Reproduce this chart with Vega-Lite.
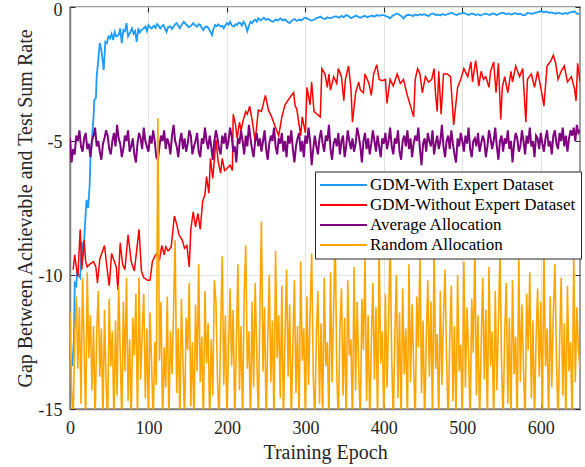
{
"$schema":"https://vega.github.io/schema/vega-lite/v6.json",
"width":510,"height":402,
"autosize":{"type":"none"},
"padding":{"left":70,"top":7,"right":5,"bottom":58},
"background":"white",
"config":{
 "view":{"stroke":"#808080","strokeWidth":1.5},
 "font":"Liberation Serif",
 "axis":{"labelFont":"Liberation Serif","labelFontSize":18,"labelColor":"#262626","titleFont":"Liberation Serif","titleFontSize":20,"titleFontWeight":"normal","titleColor":"#262626","domainColor":"#808080","domainWidth":1.5,"tickColor":"#262626","tickSize":-5,"tickWidth":1,"gridColor":"#e3e3e3","gridWidth":1}
},
"datasets":{
"blue":[{"e":3,"v":-13.4},{"e":5,"v":-12.4},{"e":6,"v":-10.3},{"e":8,"v":-10.4},{"e":9,"v":-9.9},{"e":11,"v":-10.0},{"e":13,"v":-10.1},{"e":15,"v":-8.75},{"e":17,"v":-9.3},{"e":19,"v":-8.2},{"e":21,"v":-7.2},{"e":23,"v":-7.5},{"e":25,"v":-6.7},{"e":26,"v":-5.7},{"e":28,"v":-4.96},{"e":30,"v":-4.1},{"e":31,"v":-3.47},{"e":33,"v":-3.4},{"e":34,"v":-2.6},{"e":36,"v":-1.98},{"e":38,"v":-1.35},{"e":40,"v":-1.6},{"e":43,"v":-2.35},{"e":45,"v":-1.3},{"e":47,"v":-1.35},{"e":49,"v":-1.1},{"e":51,"v":-1.17},{"e":53,"v":-1.0},{"e":55,"v":-1.23},{"e":57,"v":-0.93},{"e":59,"v":-1.1},{"e":62,"v":-1.05},{"e":64,"v":-0.8},{"e":66,"v":-1.35},{"e":68,"v":-0.86},{"e":70,"v":-0.9},{"e":72,"v":-0.6},{"e":74,"v":-1.1},{"e":77,"v":-0.93},{"e":79,"v":-0.8},{"e":81,"v":-1.0},{"e":83,"v":-0.9},{"e":85,"v":-1.3},{"e":87,"v":-0.8},{"e":89,"v":-0.95},{"e":91,"v":-0.86},{"e":94,"v":-0.8},{"e":96,"v":-0.73},{"e":98,"v":-0.9},{"e":100,"v":-0.67},{"e":102,"v":-0.75},{"e":104,"v":-0.8},{"e":107,"v":-0.7},{"e":109,"v":-0.78},{"e":111,"v":-0.63},{"e":113,"v":-0.7},{"e":115,"v":-0.8},{"e":117,"v":-0.72},{"e":119,"v":-0.67},{"e":121,"v":-0.8},{"e":123,"v":-0.93},{"e":125,"v":-0.75},{"e":128,"v":-0.73},{"e":130,"v":-0.82},{"e":132,"v":-0.73},{"e":134,"v":-0.65},{"e":136,"v":-0.6},{"e":138,"v":-0.7},{"e":140,"v":-0.8},{"e":142,"v":-0.68},{"e":145,"v":-0.55},{"e":147,"v":-0.62},{"e":149,"v":-0.67},{"e":151,"v":-0.75},{"e":153,"v":-0.73},{"e":155,"v":-0.68},{"e":157,"v":-0.6},{"e":160,"v":-0.7},{"e":162,"v":-0.73},{"e":164,"v":-0.64},{"e":166,"v":-0.67},{"e":168,"v":-0.78},{"e":170,"v":-0.86},{"e":172,"v":-0.75},{"e":175,"v":-0.73},{"e":177,"v":-0.82},{"e":179,"v":-0.93},{"e":181,"v":-1.05},{"e":183,"v":-0.8},{"e":185,"v":-0.67},{"e":187,"v":-0.72},{"e":189,"v":-0.65},{"e":192,"v":-0.73},{"e":194,"v":-0.7},{"e":196,"v":-0.8},{"e":198,"v":-0.68},{"e":200,"v":-0.6},{"e":202,"v":-0.66},{"e":204,"v":-0.55},{"e":206,"v":-0.68},{"e":209,"v":-0.73},{"e":211,"v":-0.64},{"e":213,"v":-0.67},{"e":215,"v":-0.58},{"e":217,"v":-0.6},{"e":219,"v":-0.7},{"e":221,"v":-0.55},{"e":223,"v":-0.62},{"e":226,"v":-0.9},{"e":228,"v":-0.7},{"e":230,"v":-0.55},{"e":232,"v":-0.6},{"e":234,"v":-0.52},{"e":236,"v":-0.47},{"e":238,"v":-0.55},{"e":240,"v":-0.42},{"e":243,"v":-0.5},{"e":245,"v":-0.45},{"e":247,"v":-0.4},{"e":250,"v":-0.48},{"e":253,"v":-0.44},{"e":256,"v":-0.52},{"e":259,"v":-0.55},{"e":262,"v":-0.47},{"e":265,"v":-0.5},{"e":268,"v":-0.43},{"e":271,"v":-0.5},{"e":274,"v":-0.46},{"e":277,"v":-0.55},{"e":280,"v":-0.6},{"e":283,"v":-0.5},{"e":286,"v":-0.45},{"e":289,"v":-0.52},{"e":292,"v":-0.47},{"e":295,"v":-0.5},{"e":298,"v":-0.42},{"e":301,"v":-0.4},{"e":304,"v":-0.46},{"e":307,"v":-0.5},{"e":310,"v":-0.49},{"e":313,"v":-0.43},{"e":316,"v":-0.4},{"e":319,"v":-0.36},{"e":322,"v":-0.42},{"e":325,"v":-0.45},{"e":328,"v":-0.38},{"e":331,"v":-0.42},{"e":334,"v":-0.4},{"e":337,"v":-0.35},{"e":340,"v":-0.36},{"e":343,"v":-0.4},{"e":346,"v":-0.33},{"e":349,"v":-0.38},{"e":352,"v":-0.3},{"e":355,"v":-0.34},{"e":358,"v":-0.42},{"e":361,"v":-0.38},{"e":364,"v":-0.32},{"e":367,"v":-0.36},{"e":370,"v":-0.4},{"e":373,"v":-0.36},{"e":376,"v":-0.33},{"e":379,"v":-0.38},{"e":382,"v":-0.35},{"e":385,"v":-0.32},{"e":388,"v":-0.36},{"e":391,"v":-0.3},{"e":394,"v":-0.33},{"e":397,"v":-0.3},{"e":400,"v":-0.3},{"e":403,"v":-0.35},{"e":406,"v":-0.38},{"e":408,"v":-0.42},{"e":411,"v":-0.33},{"e":414,"v":-0.28},{"e":417,"v":-0.24},{"e":420,"v":-0.3},{"e":423,"v":-0.35},{"e":425,"v":-0.43},{"e":428,"v":-0.33},{"e":431,"v":-0.29},{"e":434,"v":-0.3},{"e":437,"v":-0.34},{"e":440,"v":-0.28},{"e":443,"v":-0.32},{"e":446,"v":-0.27},{"e":449,"v":-0.3},{"e":451,"v":-0.27},{"e":454,"v":-0.3},{"e":457,"v":-0.34},{"e":460,"v":-0.26},{"e":463,"v":-0.24},{"e":466,"v":-0.3},{"e":469,"v":-0.28},{"e":472,"v":-0.32},{"e":475,"v":-0.26},{"e":478,"v":-0.3},{"e":481,"v":-0.27},{"e":484,"v":-0.24},{"e":487,"v":-0.22},{"e":490,"v":-0.27},{"e":493,"v":-0.3},{"e":496,"v":-0.25},{"e":499,"v":-0.24},{"e":502,"v":-0.22},{"e":505,"v":-0.26},{"e":508,"v":-0.3},{"e":511,"v":-0.25},{"e":514,"v":-0.26},{"e":517,"v":-0.3},{"e":520,"v":-0.27},{"e":523,"v":-0.32},{"e":526,"v":-0.28},{"e":529,"v":-0.25},{"e":532,"v":-0.27},{"e":535,"v":-0.3},{"e":538,"v":-0.24},{"e":541,"v":-0.26},{"e":544,"v":-0.3},{"e":547,"v":-0.25},{"e":550,"v":-0.22},{"e":553,"v":-0.22},{"e":556,"v":-0.27},{"e":559,"v":-0.24},{"e":562,"v":-0.28},{"e":565,"v":-0.25},{"e":568,"v":-0.23},{"e":571,"v":-0.27},{"e":574,"v":-0.25},{"e":577,"v":-0.3},{"e":580,"v":-0.3},{"e":583,"v":-0.22},{"e":586,"v":-0.24},{"e":589,"v":-0.26},{"e":592,"v":-0.22},{"e":595,"v":-0.2},{"e":598,"v":-0.17},{"e":601,"v":-0.15},{"e":604,"v":-0.2},{"e":607,"v":-0.17},{"e":610,"v":-0.22},{"e":613,"v":-0.2},{"e":616,"v":-0.22},{"e":619,"v":-0.25},{"e":622,"v":-0.21},{"e":625,"v":-0.24},{"e":628,"v":-0.26},{"e":631,"v":-0.22},{"e":634,"v":-0.25},{"e":637,"v":-0.2},{"e":640,"v":-0.18},{"e":643,"v":-0.17},{"e":646,"v":-0.24},{"e":649,"v":-0.27}],
"red":[{"e":4,"v":-9.8},{"e":6,"v":-9.25},{"e":8,"v":-9.7},{"e":10,"v":-10.06},{"e":13,"v":-8.3},{"e":15,"v":-9.8},{"e":18,"v":-8.7},{"e":20,"v":-9.5},{"e":22,"v":-9.7},{"e":25,"v":-9.6},{"e":30,"v":-9.5},{"e":33,"v":-9.7},{"e":35,"v":-10.3},{"e":38,"v":-9.4},{"e":44,"v":-8.9},{"e":47,"v":-9.7},{"e":50,"v":-10.4},{"e":53,"v":-9.2},{"e":56,"v":-9.45},{"e":59,"v":-9.7},{"e":61,"v":-10.56},{"e":64,"v":-8.8},{"e":67,"v":-9.6},{"e":70,"v":-9.8},{"e":74,"v":-8.5},{"e":78,"v":-9.5},{"e":82,"v":-9.85},{"e":88,"v":-8.3},{"e":91,"v":-9.85},{"e":94,"v":-10.1},{"e":99,"v":-10.2},{"e":102,"v":-10.2},{"e":105,"v":-9.5},{"e":108,"v":-9.3},{"e":111,"v":-9.2},{"e":114,"v":-9.45},{"e":117,"v":-8.9},{"e":120,"v":-9.25},{"e":122,"v":-8.95},{"e":125,"v":-9.1},{"e":129,"v":-8.95},{"e":133,"v":-7.8},{"e":136,"v":-8.1},{"e":139,"v":-8.5},{"e":143,"v":-8.7},{"e":146,"v":-9.0},{"e":149,"v":-8.9},{"e":152,"v":-9.7},{"e":154,"v":-8.3},{"e":157,"v":-7.64},{"e":160,"v":-8.2},{"e":163,"v":-7.7},{"e":166,"v":-8.3},{"e":169,"v":-7.26},{"e":172,"v":-7.0},{"e":174,"v":-6.33},{"e":177,"v":-6.95},{"e":179,"v":-5.65},{"e":182,"v":-6.4},{"e":185,"v":-5.34},{"e":186,"v":-4.96},{"e":189,"v":-5.8},{"e":192,"v":-6.2},{"e":194,"v":-5.65},{"e":197,"v":-6.1},{"e":201,"v":-6.0},{"e":204,"v":-5.9},{"e":207,"v":-6.1},{"e":208,"v":-4.0},{"e":211,"v":-4.4},{"e":213,"v":-4.9},{"e":216,"v":-4.3},{"e":218,"v":-4.6},{"e":221,"v":-4.2},{"e":224,"v":-3.9},{"e":226,"v":-4.0},{"e":229,"v":-3.7},{"e":232,"v":-4.2},{"e":236,"v":-5.0},{"e":240,"v":-3.85},{"e":244,"v":-3.9},{"e":249,"v":-3.3},{"e":253,"v":-3.85},{"e":257,"v":-4.1},{"e":262,"v":-4.5},{"e":266,"v":-4.8},{"e":270,"v":-4.1},{"e":274,"v":-3.65},{"e":281,"v":-3.35},{"e":285,"v":-3.2},{"e":287,"v":-3.7},{"e":289,"v":-3.8},{"e":294,"v":-4.8},{"e":296,"v":-4.1},{"e":300,"v":-4.7},{"e":302,"v":-3.0},{"e":306,"v":-3.65},{"e":308,"v":-2.8},{"e":311,"v":-3.9},{"e":315,"v":-4.0},{"e":319,"v":-4.1},{"e":321,"v":-2.3},{"e":325,"v":-2.5},{"e":328,"v":-3.0},{"e":330,"v":-2.5},{"e":332,"v":-3.1},{"e":336,"v":-2.6},{"e":340,"v":-2.85},{"e":342,"v":-2.3},{"e":346,"v":-2.6},{"e":349,"v":-3.5},{"e":351,"v":-2.7},{"e":355,"v":-2.2},{"e":358,"v":-3.0},{"e":360,"v":-4.3},{"e":364,"v":-3.2},{"e":368,"v":-2.8},{"e":370,"v":-3.1},{"e":374,"v":-3.2},{"e":376,"v":-2.5},{"e":381,"v":-2.85},{"e":384,"v":-3.3},{"e":387,"v":-2.5},{"e":391,"v":-2.15},{"e":394,"v":-2.7},{"e":398,"v":-2.75},{"e":402,"v":-2.7},{"e":404,"v":-3.6},{"e":408,"v":-2.7},{"e":412,"v":-2.95},{"e":417,"v":-2.5},{"e":421,"v":-2.85},{"e":425,"v":-2.7},{"e":430,"v":-3.3},{"e":434,"v":-3.7},{"e":438,"v":-4.1},{"e":440,"v":-2.7},{"e":443,"v":-2.3},{"e":446,"v":-2.5},{"e":449,"v":-3.2},{"e":453,"v":-2.6},{"e":457,"v":-2.8},{"e":461,"v":-2.7},{"e":464,"v":-2.3},{"e":466,"v":-3.3},{"e":468,"v":-3.9},{"e":470,"v":-2.4},{"e":473,"v":-4.0},{"e":476,"v":-2.5},{"e":481,"v":-2.5},{"e":485,"v":-2.6},{"e":489,"v":-4.4},{"e":494,"v":-3.0},{"e":498,"v":-2.7},{"e":502,"v":-2.3},{"e":507,"v":-2.6},{"e":511,"v":-2.05},{"e":513,"v":-2.8},{"e":517,"v":-2.0},{"e":519,"v":-2.4},{"e":521,"v":-2.95},{"e":524,"v":-2.4},{"e":527,"v":-2.7},{"e":530,"v":-2.6},{"e":534,"v":-3.0},{"e":536,"v":-2.4},{"e":540,"v":-2.05},{"e":543,"v":-3.2},{"e":546,"v":-2.1},{"e":549,"v":-4.2},{"e":551,"v":-3.0},{"e":554,"v":-2.6},{"e":558,"v":-3.2},{"e":562,"v":-2.4},{"e":564,"v":-2.8},{"e":568,"v":-2.2},{"e":573,"v":-2.6},{"e":577,"v":-2.3},{"e":581,"v":-4.3},{"e":583,"v":-2.7},{"e":588,"v":-2.5},{"e":592,"v":-3.0},{"e":596,"v":-2.4},{"e":600,"v":-3.0},{"e":604,"v":-3.7},{"e":608,"v":-2.2},{"e":613,"v":-2.0},{"e":616,"v":-1.8},{"e":619,"v":-2.1},{"e":622,"v":-2.7},{"e":626,"v":-2.4},{"e":630,"v":-2.2},{"e":634,"v":-2.8},{"e":639,"v":-2.6},{"e":643,"v":-3.05},{"e":645,"v":-3.5},{"e":647,"v":-2.1},{"e":650,"v":-2.8}],
"purple":[{"e":0,"v":-4.9},{"e":2,"v":-5.8},{"e":4,"v":-5.3},{"e":6,"v":-5.5},{"e":8,"v":-4.8},{"e":10,"v":-5.0},{"e":12,"v":-4.6},{"e":14,"v":-5.2},{"e":16,"v":-5.4},{"e":18,"v":-4.9},{"e":20,"v":-4.7},{"e":22,"v":-5.3},{"e":24,"v":-5.1},{"e":26,"v":-5.6},{"e":28,"v":-5.0},{"e":30,"v":-4.8},{"e":32,"v":-4.5},{"e":34,"v":-5.2},{"e":36,"v":-5.0},{"e":38,"v":-5.4},{"e":40,"v":-5.7},{"e":42,"v":-5.1},{"e":44,"v":-4.9},{"e":46,"v":-4.6},{"e":48,"v":-4.8},{"e":50,"v":-5.3},{"e":52,"v":-5.5},{"e":54,"v":-5.0},{"e":56,"v":-4.7},{"e":58,"v":-5.2},{"e":60,"v":-4.4},{"e":62,"v":-4.9},{"e":64,"v":-5.1},{"e":66,"v":-5.6},{"e":68,"v":-5.3},{"e":70,"v":-4.8},{"e":72,"v":-5.0},{"e":74,"v":-4.6},{"e":76,"v":-5.4},{"e":78,"v":-5.2},{"e":80,"v":-4.9},{"e":82,"v":-5.5},{"e":84,"v":-5.8},{"e":86,"v":-5.1},{"e":88,"v":-4.7},{"e":90,"v":-4.9},{"e":92,"v":-5.3},{"e":94,"v":-4.5},{"e":96,"v":-5.0},{"e":98,"v":-5.2},{"e":100,"v":-5.4},{"e":102,"v":-4.8},{"e":104,"v":-5.1},{"e":106,"v":-4.6},{"e":108,"v":-5.0},{"e":110,"v":-5.6},{"e":112,"v":-5.7},{"e":114,"v":-5.2},{"e":116,"v":-4.8},{"e":118,"v":-5.0},{"e":120,"v":-4.6},{"e":122,"v":-5.3},{"e":124,"v":-4.9},{"e":126,"v":-5.1},{"e":128,"v":-5.5},{"e":130,"v":-4.8},{"e":132,"v":-4.4},{"e":134,"v":-5.0},{"e":136,"v":-5.2},{"e":138,"v":-5.6},{"e":140,"v":-5.0},{"e":142,"v":-4.7},{"e":144,"v":-5.3},{"e":146,"v":-4.9},{"e":148,"v":-5.4},{"e":150,"v":-5.1},{"e":152,"v":-4.6},{"e":154,"v":-4.8},{"e":156,"v":-5.5},{"e":158,"v":-5.2},{"e":160,"v":-5.0},{"e":162,"v":-4.7},{"e":164,"v":-5.4},{"e":166,"v":-5.6},{"e":168,"v":-4.9},{"e":170,"v":-5.1},{"e":172,"v":-4.5},{"e":174,"v":-5.0},{"e":176,"v":-5.3},{"e":178,"v":-4.8},{"e":180,"v":-5.2},{"e":182,"v":-5.7},{"e":184,"v":-5.0},{"e":186,"v":-4.6},{"e":188,"v":-4.9},{"e":190,"v":-5.3},{"e":192,"v":-5.5},{"e":194,"v":-4.8},{"e":196,"v":-5.1},{"e":198,"v":-4.7},{"e":200,"v":-5.3},{"e":202,"v":-5.0},{"e":204,"v":-4.5},{"e":206,"v":-4.8},{"e":208,"v":-5.4},{"e":210,"v":-5.2},{"e":212,"v":-5.8},{"e":214,"v":-4.9},{"e":216,"v":-5.1},{"e":218,"v":-4.6},{"e":220,"v":-5.0},{"e":222,"v":-5.5},{"e":224,"v":-4.8},{"e":226,"v":-5.2},{"e":228,"v":-4.4},{"e":230,"v":-4.9},{"e":232,"v":-5.3},{"e":234,"v":-5.6},{"e":236,"v":-5.0},{"e":238,"v":-4.7},{"e":240,"v":-5.2},{"e":242,"v":-4.9},{"e":244,"v":-5.4},{"e":246,"v":-5.0},{"e":248,"v":-4.6},{"e":250,"v":-5.3},{"e":252,"v":-5.7},{"e":254,"v":-5.1},{"e":256,"v":-4.8},{"e":258,"v":-5.0},{"e":260,"v":-4.5},{"e":262,"v":-5.2},{"e":264,"v":-5.5},{"e":266,"v":-4.9},{"e":268,"v":-5.1},{"e":270,"v":-4.7},{"e":272,"v":-5.4},{"e":274,"v":-5.0},{"e":276,"v":-5.6},{"e":278,"v":-4.8},{"e":280,"v":-5.1},{"e":282,"v":-4.6},{"e":284,"v":-5.3},{"e":286,"v":-5.8},{"e":288,"v":-5.2},{"e":290,"v":-4.9},{"e":292,"v":-4.7},{"e":294,"v":-5.4},{"e":296,"v":-5.0},{"e":298,"v":-5.6},{"e":300,"v":-4.8},{"e":302,"v":-5.1},{"e":304,"v":-4.5},{"e":306,"v":-5.0},{"e":308,"v":-5.9},{"e":310,"v":-5.3},{"e":312,"v":-4.8},{"e":314,"v":-5.2},{"e":316,"v":-5.5},{"e":318,"v":-4.9},{"e":320,"v":-4.6},{"e":322,"v":-5.1},{"e":324,"v":-5.4},{"e":326,"v":-4.8},{"e":328,"v":-5.0},{"e":330,"v":-4.4},{"e":332,"v":-5.3},{"e":334,"v":-5.7},{"e":336,"v":-5.1},{"e":338,"v":-4.9},{"e":340,"v":-5.2},{"e":342,"v":-4.7},{"e":344,"v":-5.5},{"e":346,"v":-5.0},{"e":348,"v":-4.8},{"e":350,"v":-5.6},{"e":352,"v":-5.2},{"e":354,"v":-4.6},{"e":356,"v":-5.0},{"e":358,"v":-5.3},{"e":360,"v":-4.9},{"e":362,"v":-5.4},{"e":364,"v":-5.1},{"e":366,"v":-4.5},{"e":368,"v":-4.8},{"e":370,"v":-5.2},{"e":372,"v":-5.8},{"e":374,"v":-5.0},{"e":376,"v":-4.7},{"e":378,"v":-5.3},{"e":380,"v":-4.9},{"e":382,"v":-5.5},{"e":384,"v":-5.1},{"e":386,"v":-4.6},{"e":388,"v":-5.0},{"e":390,"v":-5.4},{"e":392,"v":-4.8},{"e":394,"v":-5.2},{"e":396,"v":-5.6},{"e":398,"v":-4.9},{"e":400,"v":-5.1},{"e":402,"v":-4.7},{"e":404,"v":-5.3},{"e":406,"v":-5.0},{"e":408,"v":-4.5},{"e":410,"v":-5.2},{"e":412,"v":-5.5},{"e":414,"v":-4.9},{"e":416,"v":-5.1},{"e":418,"v":-4.6},{"e":420,"v":-5.4},{"e":422,"v":-5.7},{"e":424,"v":-5.0},{"e":426,"v":-4.8},{"e":428,"v":-5.2},{"e":430,"v":-4.6},{"e":432,"v":-5.3},{"e":434,"v":-4.9},{"e":436,"v":-5.6},{"e":438,"v":-5.1},{"e":440,"v":-4.8},{"e":442,"v":-5.0},{"e":444,"v":-4.5},{"e":446,"v":-5.3},{"e":448,"v":-5.9},{"e":450,"v":-5.1},{"e":452,"v":-4.9},{"e":454,"v":-5.4},{"e":456,"v":-4.7},{"e":458,"v":-5.0},{"e":460,"v":-5.2},{"e":462,"v":-4.6},{"e":464,"v":-5.5},{"e":466,"v":-5.1},{"e":468,"v":-4.8},{"e":470,"v":-5.3},{"e":472,"v":-5.0},{"e":474,"v":-4.4},{"e":476,"v":-5.2},{"e":478,"v":-5.6},{"e":480,"v":-5.0},{"e":482,"v":-4.8},{"e":484,"v":-5.3},{"e":486,"v":-4.6},{"e":488,"v":-5.1},{"e":490,"v":-5.5},{"e":492,"v":-5.8},{"e":494,"v":-4.9},{"e":496,"v":-5.2},{"e":498,"v":-4.7},{"e":500,"v":-5.0},{"e":502,"v":-5.4},{"e":504,"v":-4.8},{"e":506,"v":-5.1},{"e":508,"v":-4.5},{"e":510,"v":-5.3},{"e":512,"v":-5.6},{"e":514,"v":-5.0},{"e":516,"v":-4.9},{"e":518,"v":-5.2},{"e":520,"v":-4.7},{"e":522,"v":-5.4},{"e":524,"v":-5.1},{"e":526,"v":-4.8},{"e":528,"v":-5.0},{"e":530,"v":-5.6},{"e":532,"v":-5.2},{"e":534,"v":-4.6},{"e":536,"v":-4.9},{"e":538,"v":-5.3},{"e":540,"v":-5.0},{"e":542,"v":-4.5},{"e":544,"v":-5.2},{"e":546,"v":-5.7},{"e":548,"v":-5.0},{"e":550,"v":-4.8},{"e":552,"v":-5.4},{"e":554,"v":-4.9},{"e":556,"v":-5.1},{"e":558,"v":-4.6},{"e":560,"v":-5.3},{"e":562,"v":-5.0},{"e":564,"v":-5.8},{"e":566,"v":-5.1},{"e":568,"v":-4.7},{"e":570,"v":-4.9},{"e":572,"v":-5.4},{"e":574,"v":-5.2},{"e":576,"v":-4.6},{"e":578,"v":-5.0},{"e":580,"v":-5.5},{"e":582,"v":-4.8},{"e":584,"v":-5.1},{"e":586,"v":-4.5},{"e":588,"v":-5.2},{"e":590,"v":-5.0},{"e":592,"v":-5.6},{"e":594,"v":-4.8},{"e":596,"v":-4.9},{"e":598,"v":-5.3},{"e":600,"v":-4.7},{"e":602,"v":-5.1},{"e":604,"v":-5.4},{"e":606,"v":-4.9},{"e":608,"v":-4.6},{"e":610,"v":-5.2},{"e":612,"v":-5.0},{"e":614,"v":-5.5},{"e":616,"v":-4.8},{"e":618,"v":-4.6},{"e":620,"v":-5.1},{"e":622,"v":-5.3},{"e":624,"v":-4.7},{"e":626,"v":-5.0},{"e":628,"v":-4.5},{"e":630,"v":-5.2},{"e":632,"v":-4.8},{"e":634,"v":-5.4},{"e":636,"v":-4.9},{"e":638,"v":-4.6},{"e":640,"v":-4.8},{"e":642,"v":-4.5},{"e":644,"v":-5.0},{"e":646,"v":-4.4},{"e":648,"v":-4.7},{"e":650,"v":-4.6}],
"orange":[{"e":0,"v":-11.4},{"e":2,"v":-14.2},{"e":4,"v":-15.5},{"e":6,"v":-12.3},{"e":8,"v":-10.8},{"e":10,"v":-13.5},{"e":12,"v":-11.2},{"e":14,"v":-14.8},{"e":16,"v":-10.1},{"e":18,"v":-12.6},{"e":20,"v":-15.5},{"e":22,"v":-9.9},{"e":24,"v":-13.1},{"e":26,"v":-11.5},{"e":28,"v":-14.3},{"e":30,"v":-11.9},{"e":32,"v":-15.5},{"e":34,"v":-12.2},{"e":36,"v":-10.6},{"e":38,"v":-13.8},{"e":40,"v":-12.0},{"e":42,"v":-15.5},{"e":44,"v":-11.3},{"e":46,"v":-14.0},{"e":48,"v":-15.5},{"e":50,"v":-10.9},{"e":52,"v":-13.4},{"e":54,"v":-12.1},{"e":56,"v":-15.5},{"e":58,"v":-11.7},{"e":60,"v":-14.5},{"e":62,"v":-10.4},{"e":64,"v":-12.9},{"e":66,"v":-15.5},{"e":68,"v":-11.0},{"e":70,"v":-13.6},{"e":72,"v":-10.1},{"e":74,"v":-14.7},{"e":76,"v":-12.4},{"e":78,"v":-15.5},{"e":80,"v":-11.6},{"e":82,"v":-13.0},{"e":84,"v":-10.7},{"e":86,"v":-15.5},{"e":88,"v":-10.1},{"e":90,"v":-13.9},{"e":92,"v":-12.2},{"e":94,"v":-10.7},{"e":96,"v":-14.6},{"e":98,"v":-12.0},{"e":100,"v":-15.5},{"e":102,"v":-11.4},{"e":104,"v":-13.3},{"e":106,"v":-15.5},{"e":108,"v":-12.5},{"e":110,"v":-14.1},{"e":112,"v":-4.15},{"e":114,"v":-13.2},{"e":116,"v":-11.0},{"e":118,"v":-15.5},{"e":120,"v":-12.7},{"e":122,"v":-14.2},{"e":124,"v":-10.8},{"e":126,"v":-15.5},{"e":128,"v":-12.1},{"e":130,"v":-13.7},{"e":132,"v":-11.3},{"e":134,"v":-8.7},{"e":136,"v":-14.4},{"e":138,"v":-12.0},{"e":140,"v":-15.5},{"e":142,"v":-10.9},{"e":144,"v":-13.2},{"e":146,"v":-15.5},{"e":148,"v":-11.6},{"e":150,"v":-12.8},{"e":152,"v":-10.3},{"e":154,"v":-14.9},{"e":156,"v":-12.5},{"e":158,"v":-15.5},{"e":160,"v":-11.1},{"e":162,"v":-13.6},{"e":164,"v":-9.6},{"e":166,"v":-14.0},{"e":168,"v":-12.3},{"e":170,"v":-15.5},{"e":172,"v":-10.6},{"e":174,"v":-13.3},{"e":176,"v":-11.8},{"e":178,"v":-15.5},{"e":180,"v":-12.4},{"e":182,"v":-14.5},{"e":184,"v":-10.2},{"e":186,"v":-11.0},{"e":188,"v":-13.9},{"e":190,"v":-15.5},{"e":192,"v":-12.0},{"e":194,"v":-9.3},{"e":196,"v":-14.1},{"e":198,"v":-11.5},{"e":200,"v":-15.5},{"e":202,"v":-12.8},{"e":204,"v":-10.5},{"e":206,"v":-13.4},{"e":208,"v":-11.3},{"e":210,"v":-15.5},{"e":212,"v":-12.6},{"e":214,"v":-9.6},{"e":216,"v":-14.3},{"e":218,"v":-11.9},{"e":220,"v":-15.5},{"e":222,"v":-10.7},{"e":224,"v":-8.9},{"e":226,"v":-13.5},{"e":228,"v":-12.1},{"e":230,"v":-15.5},{"e":232,"v":-11.0},{"e":234,"v":-14.2},{"e":236,"v":-10.3},{"e":238,"v":-12.9},{"e":240,"v":-15.5},{"e":242,"v":-11.4},{"e":244,"v":-8.0},{"e":246,"v":-13.6},{"e":248,"v":-11.2},{"e":250,"v":-15.5},{"e":252,"v":-12.4},{"e":254,"v":-10.0},{"e":256,"v":-14.0},{"e":258,"v":-11.7},{"e":260,"v":-15.5},{"e":262,"v":-9.1},{"e":264,"v":-13.1},{"e":266,"v":-11.5},{"e":268,"v":-14.6},{"e":270,"v":-10.4},{"e":272,"v":-15.5},{"e":274,"v":-12.3},{"e":276,"v":-9.8},{"e":278,"v":-13.8},{"e":280,"v":-11.1},{"e":282,"v":-15.5},{"e":284,"v":-12.7},{"e":286,"v":-10.2},{"e":288,"v":-14.4},{"e":290,"v":-11.9},{"e":292,"v":-15.5},{"e":294,"v":-9.5},{"e":296,"v":-13.2},{"e":298,"v":-12.0},{"e":300,"v":-15.5},{"e":302,"v":-10.8},{"e":304,"v":-14.1},{"e":306,"v":-11.4},{"e":308,"v":-9.2},{"e":310,"v":-13.7},{"e":312,"v":-15.5},{"e":314,"v":-12.2},{"e":316,"v":-10.6},{"e":318,"v":-14.8},{"e":320,"v":-11.8},{"e":322,"v":-15.5},{"e":324,"v":-10.1},{"e":326,"v":-13.4},{"e":328,"v":-12.5},{"e":330,"v":-15.5},{"e":332,"v":-9.9},{"e":334,"v":-14.0},{"e":336,"v":-11.3},{"e":338,"v":-8.4},{"e":340,"v":-13.6},{"e":342,"v":-15.5},{"e":344,"v":-12.0},{"e":346,"v":-10.5},{"e":348,"v":-14.5},{"e":350,"v":-11.6},{"e":352,"v":-15.5},{"e":354,"v":-10.2},{"e":356,"v":-13.0},{"e":358,"v":-12.4},{"e":360,"v":-15.5},{"e":362,"v":-9.7},{"e":364,"v":-14.3},{"e":366,"v":-11.0},{"e":368,"v":-13.5},{"e":370,"v":-15.5},{"e":372,"v":-10.9},{"e":374,"v":-12.8},{"e":376,"v":-9.4},{"e":378,"v":-14.7},{"e":380,"v":-11.5},{"e":382,"v":-15.5},{"e":384,"v":-12.6},{"e":386,"v":-10.3},{"e":388,"v":-13.9},{"e":390,"v":-11.2},{"e":392,"v":-15.5},{"e":394,"v":-9.0},{"e":396,"v":-13.3},{"e":398,"v":-12.1},{"e":400,"v":-15.5},{"e":402,"v":-10.7},{"e":404,"v":-14.2},{"e":406,"v":-11.8},{"e":408,"v":-8.6},{"e":410,"v":-13.1},{"e":412,"v":-15.5},{"e":414,"v":-12.3},{"e":416,"v":-10.0},{"e":418,"v":-14.6},{"e":420,"v":-11.4},{"e":422,"v":-15.5},{"e":424,"v":-10.5},{"e":426,"v":-13.7},{"e":428,"v":-12.0},{"e":430,"v":-15.5},{"e":432,"v":-9.6},{"e":434,"v":-14.0},{"e":436,"v":-11.1},{"e":438,"v":-13.4},{"e":440,"v":-15.5},{"e":442,"v":-10.8},{"e":444,"v":-12.7},{"e":446,"v":-9.3},{"e":448,"v":-14.4},{"e":450,"v":-11.7},{"e":452,"v":-15.5},{"e":454,"v":-12.5},{"e":456,"v":-10.2},{"e":458,"v":-13.8},{"e":460,"v":-11.0},{"e":462,"v":-15.5},{"e":464,"v":-8.9},{"e":466,"v":-13.5},{"e":468,"v":-12.2},{"e":470,"v":-15.5},{"e":472,"v":-10.6},{"e":474,"v":-14.1},{"e":476,"v":-11.6},{"e":478,"v":-9.8},{"e":480,"v":-13.2},{"e":482,"v":-15.5},{"e":484,"v":-12.4},{"e":486,"v":-10.4},{"e":488,"v":-14.7},{"e":490,"v":-11.9},{"e":492,"v":-15.5},{"e":494,"v":-10.0},{"e":496,"v":-13.6},{"e":498,"v":-12.6},{"e":500,"v":-15.5},{"e":502,"v":-9.5},{"e":504,"v":-14.2},{"e":506,"v":-11.2},{"e":508,"v":-13.0},{"e":510,"v":-15.5},{"e":512,"v":-10.9},{"e":514,"v":-12.9},{"e":516,"v":-8.8},{"e":518,"v":-14.5},{"e":520,"v":-11.5},{"e":522,"v":-15.5},{"e":524,"v":-12.7},{"e":526,"v":-10.1},{"e":528,"v":-13.9},{"e":530,"v":-11.3},{"e":532,"v":-15.5},{"e":534,"v":-9.7},{"e":536,"v":-13.4},{"e":538,"v":-12.1},{"e":540,"v":-15.5},{"e":542,"v":-10.6},{"e":544,"v":-14.3},{"e":546,"v":-11.8},{"e":548,"v":-9.1},{"e":550,"v":-13.3},{"e":552,"v":-15.5},{"e":554,"v":-12.2},{"e":556,"v":-10.3},{"e":558,"v":-14.8},{"e":560,"v":-11.6},{"e":562,"v":-15.5},{"e":564,"v":-10.2},{"e":566,"v":-13.7},{"e":568,"v":-12.3},{"e":570,"v":-15.5},{"e":572,"v":-9.4},{"e":574,"v":-14.0},{"e":576,"v":-11.1},{"e":578,"v":-13.5},{"e":580,"v":-15.5},{"e":582,"v":-10.7},{"e":584,"v":-12.8},{"e":586,"v":-9.9},{"e":588,"v":-14.6},{"e":590,"v":-11.7},{"e":592,"v":-15.5},{"e":594,"v":-12.4},{"e":596,"v":-10.5},{"e":598,"v":-13.8},{"e":600,"v":-11.0},{"e":602,"v":-15.5},{"e":604,"v":-9.0},{"e":606,"v":-13.4},{"e":608,"v":-12.0},{"e":610,"v":-15.5},{"e":612,"v":-10.8},{"e":614,"v":-14.2},{"e":616,"v":-11.4},{"e":618,"v":-9.6},{"e":620,"v":-13.1},{"e":622,"v":-15.5},{"e":624,"v":-12.6},{"e":626,"v":-10.1},{"e":628,"v":-14.5},{"e":630,"v":-11.8},{"e":632,"v":-15.5},{"e":634,"v":-10.4},{"e":636,"v":-13.6},{"e":638,"v":-12.5},{"e":640,"v":-15.5},{"e":642,"v":-9.3},{"e":644,"v":-14.0},{"e":646,"v":-11.2},{"e":648,"v":-12.8},{"e":650,"v":-13.5}]
},
"layer":[
 {"data":{"name":"blue"},"mark":{"type":"line","strokeWidth":1.8,"clip":true},
  "encoding":{
   "x":{"field":"e","type":"quantitative","scale":{"domain":[0,650],"nice":false,"zero":false},"axis":{"values":[0,100,200,300,400,500,600],"title":"Training Epoch","grid":true,"labelFlush":false,"labelPadding":15,"titlePadding":5}},
   "y":{"field":"v","type":"quantitative","scale":{"domain":[-15,0],"nice":false},"axis":{"values":[-15,-10,-5,0],"title":"Gap Between Achievable and Test Sum Rate","grid":true,"labelFlush":false,"labelPadding":13,"titlePadding":3,"labelOffset":{"condition":{"test":"datum.value == 0","value":3},"value":1},"labelExpr":"datum.value == 0 ? '0' : '-' + abs(datum.value)"}},
   "color":{"datum":"GDM-With Expert Dataset","type":"nominal","scale":{"domain":["GDM-With Expert Dataset","GDM-Without Expert Dataset","Average Allocation","Random Allocation"],"range":["#1e9bff","#ff0000","#7f007f","#ffa500"]},
    "legend":{"title":null,"orient":"none","legendX":245,"legendY":164.5,"direction":"vertical","symbolType":"M-3.133,0H3.133","symbolSize":225,"symbolStrokeWidth":2,"symbolOffset":15,"labelOffset":18,"labelFont":"Liberation Serif","labelFontSize":17,"labelColor":"#000000","labelLimit":0,"padding":5,"rowPadding":2,"strokeColor":"#262626","fillColor":"#ffffff"}}
  }},
 {"data":{"name":"red"},"mark":{"type":"line","strokeWidth":1.5,"clip":true},
  "encoding":{
   "x":{"field":"e","type":"quantitative","axis":{"orient":"top","values":[0,100,200,300,400,500,600],"labels":false,"title":null,"grid":false,"domain":false}},
   "y":{"field":"v","type":"quantitative","axis":{"orient":"right","values":[-15,-10,-5,0],"labels":false,"title":null,"grid":false,"domain":false}},
   "color":{"datum":"GDM-Without Expert Dataset","type":"nominal"}
  }},
 {"data":{"name":"purple"},"mark":{"type":"line","strokeWidth":2,"clip":true},
  "encoding":{
   "x":{"field":"e","type":"quantitative","axis":null},
   "y":{"field":"v","type":"quantitative","axis":null},
   "color":{"datum":"Average Allocation","type":"nominal"}
  }},
 {"data":{"name":"orange"},"mark":{"type":"line","strokeWidth":1.6,"clip":true},
  "encoding":{
   "x":{"field":"e","type":"quantitative","axis":null},
   "y":{"field":"v","type":"quantitative","axis":null},
   "color":{"datum":"Random Allocation","type":"nominal"}
  }}
],
"resolve":{"axis":{"x":"independent","y":"independent"}}
}
